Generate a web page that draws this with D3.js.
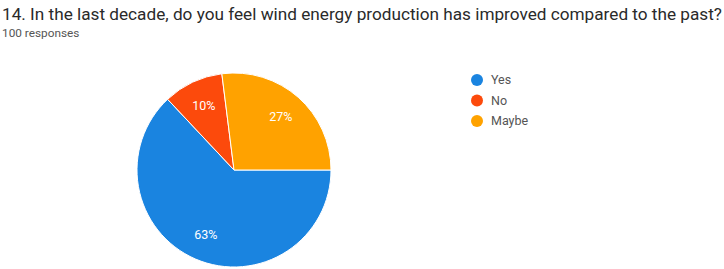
<!DOCTYPE html>
<html>
<head>
<meta charset="utf-8">
<script src="https://cdn.jsdelivr.net/npm/d3@7"></script>
<style>
  html, body { margin: 0; padding: 0; background: #fff; }
  svg { display: block; font-family: Roboto, Arial, sans-serif; }
</style>
</head>
<body>
<svg id="chart" width="724" height="269"></svg>
<script>
const categories = ['Yes', 'No', 'Maybe'];
const values = [63, 10, 27];
const colors = ['#1a84e0', '#fc4a0c', '#ffa200'];
const title = '14. In the last decade, do you feel wind energy production has improved compared to the past?';
const subtitle = '100 responses';

const width = 724, height = 269;
const cx = 234, cy = 170, radius = 97;

const svg = d3.select('#chart');

// title + response count
svg.append('text')
  .attr('x', 2).attr('y', 20)
  .attr('font-size', 17.2)
  .attr('fill', '#2a2a2a')
  .text(title);

svg.append('text')
  .attr('x', 2).attr('y', 37)
  .attr('font-size', 11.8)
  .attr('fill', '#555')
  .text(subtitle);

const data = categories.map((c, i) => ({ name: c, value: values[i] }));
const color = d3.scaleOrdinal().domain(categories).range(colors);

// google-style: first slice starts at 3 o'clock, clockwise
const pie = d3.pie()
  .sort(null)
  .value(d => d.value)
  .startAngle(Math.PI / 2)
  .endAngle(Math.PI / 2 + 2 * Math.PI);

const arc = d3.arc().innerRadius(0).outerRadius(radius);
const labelArc = d3.arc().innerRadius(radius * 0.73).outerRadius(radius * 0.73);

const g = svg.append('g').attr('transform', `translate(${cx},${cy})`);
const arcs = pie(data);
const total = d3.sum(values);

g.selectAll('path')
  .data(arcs)
  .join('path')
  .attr('d', arc)
  .attr('fill', d => color(d.data.name))
  .attr('stroke', '#fff')
  .attr('stroke-width', 1);

g.selectAll('text')
  .data(arcs)
  .join('text')
  .attr('transform', d => `translate(${labelArc.centroid(d)})`)
  .attr('text-anchor', 'middle')
  .attr('dy', '0.35em')
  .attr('font-size', 12.5)
  .attr('fill', '#fff')
  .text(d => Math.round(d.data.value / total * 100) + '%');

// legend
const legend = svg.append('g').attr('transform', 'translate(477,80)');
const row = legend.selectAll('g')
  .data(categories)
  .join('g')
  .attr('transform', (d, i) => `translate(0,${i * 20.5})`);

row.append('circle')
  .attr('r', 6)
  .attr('fill', d => color(d));

row.append('text')
  .attr('x', 14)
  .attr('dy', '0.35em')
  .attr('font-size', 12.5)
  .attr('fill', '#555')
  .text(d => d);
</script>
</body>
</html>
